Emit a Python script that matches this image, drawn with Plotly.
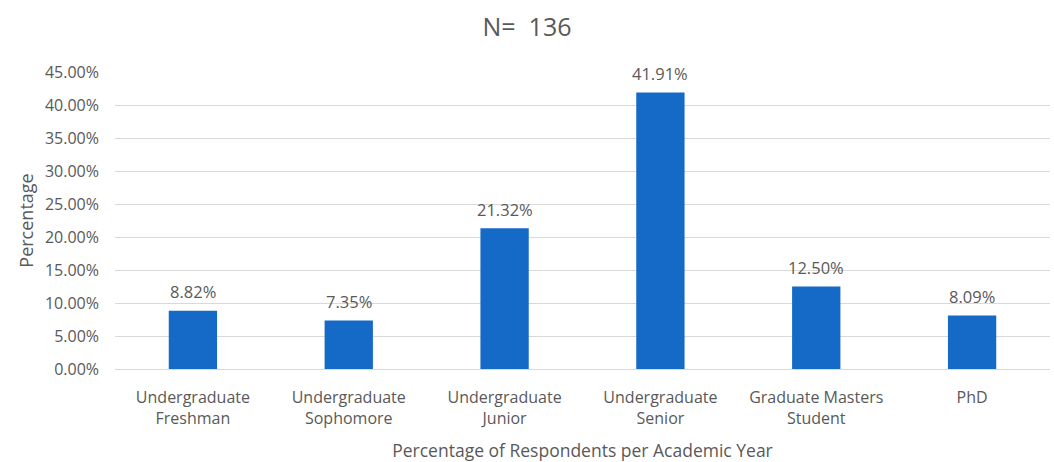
import plotly.graph_objects as go

# Academic year categories (two-line tick labels)
categories = [
    "Undergraduate<br>Freshman",
    "Undergraduate<br>Sophomore",
    "Undergraduate<br>Junior",
    "Undergraduate<br>Senior",
    "Graduate Masters<br>Student",
    "PhD",
]
# Share of respondents per category
shares = [0.0882, 0.0735, 0.2132, 0.4191, 0.1250, 0.0809]
# Y-axis tick values
y_ticks = [0.0, 0.05, 0.10, 0.15, 0.20, 0.25, 0.30, 0.35, 0.40, 0.45]

TEXT = "#595959"
FONT = "Open Sans"

fig = go.Figure(
    go.Bar(
        x=categories,
        y=shares,
        marker=dict(color="#1569C7", line=dict(width=0)),
        hoverinfo="skip",
    )
)

# Value labels floating above each bar
for cat, val in zip(categories, shares):
    fig.add_annotation(
        x=cat,
        y=val,
        text=f"{val:.2%}",
        showarrow=False,
        yanchor="middle",
        yshift=19,
        font=dict(family=FONT, size=16.5, color=TEXT),
    )

fig.update_layout(
    width=1054,
    height=462,
    margin=dict(l=115, r=4, t=72, b=93),
    paper_bgcolor="white",
    plot_bgcolor="white",
    bargap=0.69,
    showlegend=False,
    font=dict(family=FONT, color=TEXT, size=16),
    title=dict(
        text="N=  136",
        x=0.5,
        xanchor="center",
        xref="container",
        y=1 - 27 / 462,
        yanchor="middle",
        yref="container",
        font=dict(family=FONT, size=25, color=TEXT),
    ),
    xaxis=dict(
        automargin=False,
        showgrid=False,
        showline=False,
        zeroline=False,
        ticks="",
        tickfont=dict(family=FONT, size=16, color=TEXT),
        ticklabelstandoff=17,
        title=dict(
            text="Percentage of Respondents per Academic Year",
            font=dict(family=FONT, size=17.5, color=TEXT),
            standoff=19,
        ),
    ),
    yaxis=dict(
        automargin=False,
        range=[0, 0.45],
        tickvals=y_ticks,
        tickformat=".2%",
        showgrid=True,
        gridcolor="#D9D9D9",
        gridwidth=1,
        zeroline=True,
        zerolinecolor="#D9D9D9",
        zerolinewidth=1,
        showline=False,
        ticks="",
        tickfont=dict(family=FONT, size=16, color=TEXT),
        ticklabelstandoff=15,
        title=dict(
            text="Percentage",
            font=dict(family=FONT, size=18, color=TEXT),
            standoff=6,
        ),
    ),
)

fig.write_html("out.html")
